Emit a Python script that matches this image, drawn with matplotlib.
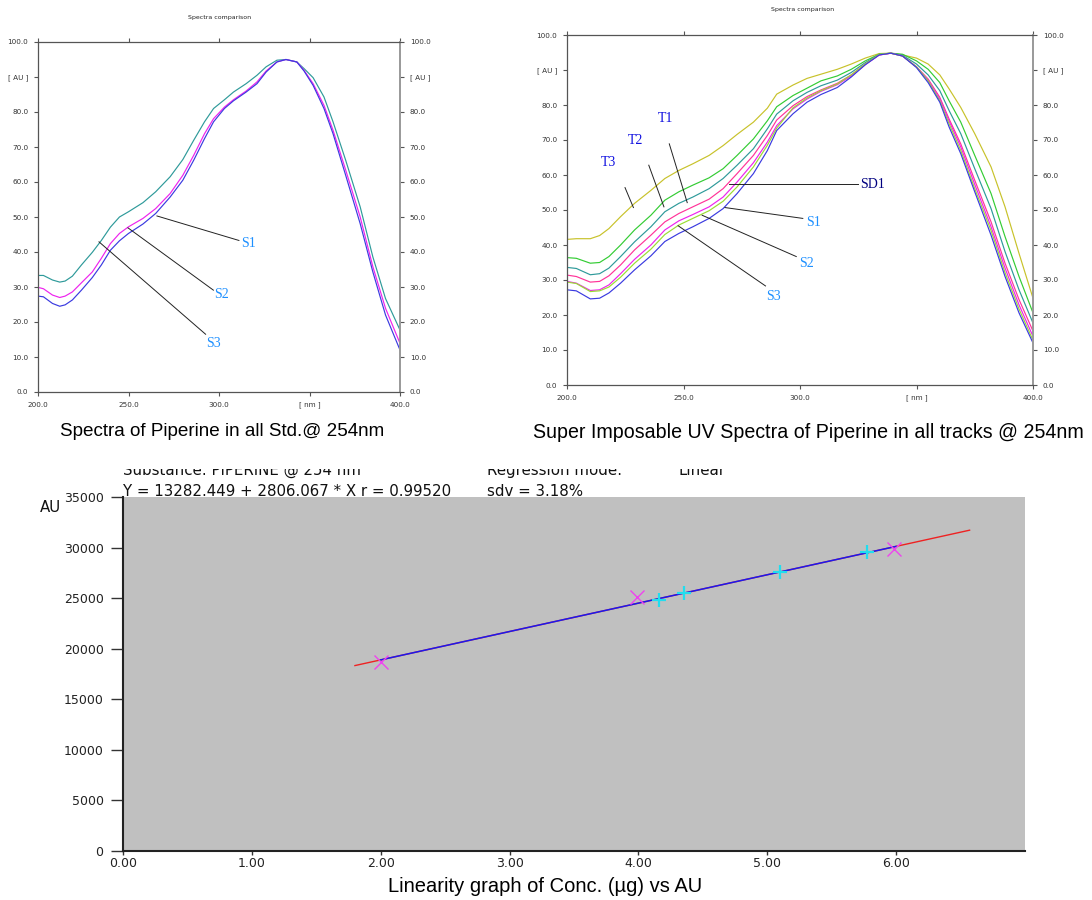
import matplotlib
matplotlib.use('Agg')
import matplotlib.pyplot as plt
from matplotlib.patches import Rectangle

W, H = 1092, 900

# ---------------- data ----------------
# Top-left: Spectra of standards
wl_left = [200, 203, 208, 212, 215, 219, 224, 230, 235, 240, 245, 250, 258, 265, 273, 280, 286, 292,
           297, 303, 308, 315, 321, 326, 332, 337, 343, 347, 352, 358, 363, 370, 378, 385, 392, 400]
left_teal = [33.3, 33.3, 32.0, 31.4, 31.7, 33.1, 36.3, 39.9, 43.3, 47.1, 50.0, 51.5, 54.1, 57.2, 61.5, 66.4, 71.9, 77.2,
             81.0, 83.5, 85.7, 88.1, 90.5, 92.9, 94.8, 95.0, 94.3, 92.4, 89.8, 84.3, 77.2, 66.2, 52.9, 38.6, 26.7, 17.7]
left_magenta = [29.9, 29.5, 27.7, 27.0, 27.4, 28.6, 31.2, 34.3, 38.2, 42.4, 45.3, 47.2, 49.6, 52.4, 56.7, 61.9, 67.6, 73.8,
                78.1, 81.4, 83.5, 86.0, 88.6, 91.7, 94.3, 95.0, 94.3, 91.9, 88.1, 81.9, 74.8, 63.4, 50.0, 35.8, 23.9, 13.9]
left_blue = [27.4, 27.2, 25.3, 24.5, 24.9, 26.3, 29.1, 32.7, 36.3, 40.5, 43.2, 45.3, 48.0, 51.0, 55.7, 60.5, 66.2, 72.4,
             77.2, 81.0, 83.2, 85.7, 88.1, 91.4, 94.3, 95.0, 94.3, 91.7, 87.6, 81.0, 73.8, 61.9, 48.1, 34.3, 22.0, 12.0]

# Top-right: all tracks
wl_right = [200, 204, 210, 214, 218, 223, 229, 236, 242, 248, 254, 261, 267, 273, 280, 286, 290, 297,
            303, 309, 316, 322, 328, 334, 339, 344, 350, 355, 360, 364, 369, 375, 382, 388, 394, 400]
right_yellow = [41.6, 41.8, 41.8, 42.7, 44.7, 48.1, 51.9, 55.6, 59.0, 61.3, 63.2, 65.6, 68.4, 71.6, 75.1, 79.1, 83.1, 85.7,
                87.6, 88.8, 90.2, 91.7, 93.4, 94.7, 94.8, 94.3, 93.4, 91.7, 88.6, 84.6, 79.3, 71.8, 62.3, 50.9, 37.6, 24.8]
right_green = [36.4, 36.2, 34.8, 35.0, 36.7, 40.0, 44.3, 48.5, 52.8, 55.2, 57.1, 59.2, 61.8, 65.6, 70.3, 75.5, 79.5, 82.7,
               84.8, 86.9, 88.3, 90.2, 92.6, 94.5, 94.8, 94.5, 92.6, 90.2, 86.4, 81.2, 75.1, 65.6, 54.7, 42.4, 31.0, 20.6]
right_teal = [33.6, 33.3, 31.5, 31.8, 33.4, 36.7, 40.9, 45.2, 49.5, 51.9, 53.7, 56.1, 59.0, 62.8, 67.5, 73.2, 77.4, 81.2,
              83.6, 85.5, 87.1, 89.3, 92.1, 94.5, 94.8, 94.2, 91.7, 88.6, 84.1, 78.4, 71.8, 61.8, 50.4, 38.1, 27.2, 17.7]
right_pink = [31.4, 31.0, 29.4, 29.6, 31.2, 34.3, 38.6, 42.8, 46.6, 49.0, 50.9, 53.1, 56.1, 60.4, 65.6, 71.3, 75.7, 79.8,
              82.4, 84.3, 86.2, 88.6, 91.7, 94.3, 94.8, 94.0, 90.9, 87.4, 82.2, 76.0, 68.9, 58.5, 46.6, 34.8, 24.4, 15.4]
right_magenta = [29.6, 29.1, 27.0, 27.2, 28.6, 31.8, 35.9, 40.0, 44.3, 46.9, 48.7, 50.9, 53.7, 58.0, 63.5, 69.4, 74.1, 78.9,
                 81.7, 83.9, 85.8, 88.3, 91.5, 94.3, 94.8, 94.0, 90.9, 87.1, 81.7, 75.4, 68.0, 57.3, 45.2, 33.4, 22.9, 13.9]
right_yg = [29.4, 29.0, 26.7, 26.9, 28.0, 30.8, 34.8, 38.8, 43.0, 45.7, 47.6, 49.8, 52.5, 56.6, 62.3, 68.5, 73.4, 79.2,
            82.0, 84.1, 86.0, 88.6, 91.7, 94.5, 94.8, 94.0, 90.9, 86.9, 81.2, 74.6, 67.0, 56.1, 44.1, 32.1, 21.7, 12.8]
right_blue = [27.2, 26.9, 24.6, 24.8, 26.3, 29.1, 32.9, 36.9, 41.0, 43.3, 45.2, 47.6, 50.4, 54.7, 60.4, 67.0, 72.7, 77.5,
              80.8, 83.0, 85.0, 88.0, 91.5, 94.3, 94.8, 94.0, 90.7, 86.4, 80.8, 73.7, 66.1, 55.2, 42.8, 31.0, 20.6, 12.0]

spec_yticks = [0, 10, 20, 30, 40, 50, 60, 70, 80, 90, 100]
spec_ylabels = ['0.0', '10.0', '20.0', '30.0', '40.0', '50.0', '60.0', '70.0', '80.0', '[ AU ]', '100.0']
spec_xticks = [200, 250, 300, 350, 400]
spec_xlabels = ['200.0', '250.0', '300.0', '[ nm ]', '400.0']

# Bottom: linearity
intercept = 13282.449
slope = 2806.067
red_range = [1.80, 6.57]
blue_range = [2.00, 6.00]
std_conc = [2.00, 3.99, 5.98]
std_area = [18700, 25150, 29850]
smp_conc = [4.16, 4.35, 5.10, 5.77]
smp_area = [24800, 25500, 27550, 29550]
lin_xticks = [0, 1, 2, 3, 4, 5, 6]
lin_xlabels = ['0.00', '1.00', '2.00', '3.00', '4.00', '5.00', '6.00']
lin_yticks = [0, 5000, 10000, 15000, 20000, 25000, 30000, 35000]

# ---------------- figure ----------------
fig = plt.figure(figsize=(W / 100, H / 100), dpi=100)


def ax_rect(l, t, r, b):
    return [l / W, 1 - b / H, (r - l) / W, (b - t) / H]


def style_spec(ax):
    ax.set_xlim(200, 400)
    ax.set_ylim(0, 100)
    ax.set_yticks(spec_yticks)
    ax.set_yticklabels(spec_ylabels)
    ax.set_xticks(spec_xticks)
    ax.set_xticklabels(spec_xlabels)
    ax.tick_params(axis='both', which='both', direction='out', length=3, width=0.8, color='#555555',
                   labelsize=5.2, labelcolor='#333333', pad=4,
                   left=True, right=True, top=True, bottom=True,
                   labelleft=True, labelright=True, labeltop=False, labelbottom=True)
    ax.tick_params(axis='x', pad=4)
    for s in ax.spines.values():
        s.set_color('#555555')
        s.set_linewidth(0.9)
    ax.spines['right'].set_color('#999999')
    ax.spines['right'].set_linewidth(1.4)


lw = 0.85
serif = ['Liberation Serif', 'DejaVu Serif']
# Top-left
ax1 = fig.add_axes(ax_rect(38, 42, 400, 392))
ax1.plot(wl_left, left_teal, color='#2E9A9A', lw=lw)
ax1.plot(wl_left, left_magenta, color='#EE22EE', lw=lw)
ax1.plot(wl_left, left_blue, color='#3A3AE0', lw=lw)
style_spec(ax1)
for (x0, y0, x1, y1, tx, ty, t) in [
        (265.7, 50.3, 311.0, 43.3, 316.2, 42.3, 'S1'),
        (249.7, 46.9, 296.9, 29.1, 301.3, 28.0, 'S2'),
        (233.7, 42.9, 292.6, 16.5, 296.9, 13.8, 'S3')]:
    ax1.plot([x0, x1], [y0, y1], color='#222222', lw=0.7)
    ax1.text(tx, ty, t, family=serif, fontsize=10, color='#1E90FF', ha='center', va='center')

# Top-right
ax2 = fig.add_axes(ax_rect(567, 35, 1033, 385))
ax2.plot(wl_right, right_yellow, color='#C8C22A', lw=lw)
ax2.plot(wl_right, right_green, color='#33CC33', lw=lw)
ax2.plot(wl_right, right_teal, color='#2E9A9A', lw=lw)
ax2.plot(wl_right, right_pink, color='#FF3399', lw=lw)
ax2.plot(wl_right, right_magenta, color='#EE22EE', lw=lw)
ax2.plot(wl_right, right_yg, color='#99DD33', lw=lw)
ax2.plot(wl_right, right_blue, color='#3A3AE0', lw=lw)
style_spec(ax2)
for (x0, y0, x1, y1, tx, ty, t, c) in [
        (243.9, 68.9, 251.6, 52.1, 242.2, 76.0, 'T1', '#1010E0'),
        (235.1, 62.8, 241.6, 50.9, 229.3, 69.9, 'T2', '#1010E0'),
        (224.9, 56.4, 228.5, 50.7, 217.6, 63.7, 'T3', '#1010E0'),
        (267.8, 50.7, 301.2, 47.6, 305.9, 46.4, 'S1', '#1E90FF'),
        (258.0, 48.5, 298.4, 36.7, 302.7, 34.6, 'S2', '#1E90FF'),
        (247.7, 45.5, 285.2, 28.3, 288.5, 25.3, 'S3', '#1E90FF')]:
    ax2.plot([x0, x1], [y0, y1], color='#222222', lw=0.7)
    ax2.text(tx, ty, t, family=serif, fontsize=10, color=c, ha='center', va='center')
ax2.plot([269.6, 325.0], [57.3, 57.3], color='#222222', lw=0.7)
ax2.text(325.6, 57.3, 'SD1', family=serif, fontsize=10, color='#000080', ha='left', va='center')

# titles
fig.text(220 / W, 1 - 18 / H, 'Spectra comparison', fontsize=4.5, ha='center', va='center', color='#222222')
fig.text(803 / W, 1 - 10 / H, 'Spectra comparison', fontsize=4.5, ha='center', va='center', color='#222222')

cap_kw = dict(family=['Liberation Sans', 'DejaVu Sans'], color='black', va='center')
fig.text(222 / W, 1 - 432 / H, 'Spectra of Piperine in all Std.@ 254nm', ha='center', fontsize=13.6, **cap_kw)
fig.text(533 / W, 1 - 432 / H, 'Super Imposable UV Spectra of Piperine in all tracks @ 254nm', ha='left',
         fontsize=14.1, **cap_kw)

# Bottom linearity chart
ax3 = fig.add_axes(ax_rect(123, 497, 1025, 851))
ax3.set_facecolor('#C0C0C0')
ax3.set_xlim(0, 7.0)
ax3.set_ylim(0, 35000)
ax3.plot(red_range, [intercept + slope * v for v in red_range], color='#EE2222', lw=1.0)
ax3.plot(blue_range, [intercept + slope * v for v in blue_range], color='#1A1AEE', lw=1.1)
ax3.plot(std_conc, std_area, linestyle='none', marker='x', markersize=10, mew=1.0, color='#EE44EE')
ax3.plot(smp_conc, smp_area, linestyle='none', marker='+', markersize=10, mew=1.6, color='#22DDEE')
ax3.set_xticks(lin_xticks)
ax3.set_xticklabels(lin_xlabels)
ax3.set_yticks(lin_yticks)
ax3.set_yticklabels([str(v) for v in lin_yticks])
ax3.tick_params(axis='y', direction='out', length=9, width=1.0, labelsize=9, color='#333333', pad=5,
                labelcolor='#222222')
ax3.tick_params(axis='x', direction='out', length=3, width=1.0, labelsize=9, color='#333333', pad=1,
                labelcolor='#222222')
for s in ['top', 'right']:
    ax3.spines[s].set_visible(False)
for s in ['left', 'bottom']:
    ax3.spines[s].set_linewidth(1.5)
    ax3.spines[s].set_color('#222222')
for lab in ax3.get_xticklabels() + ax3.get_yticklabels():
    lab.set_family('DejaVu Sans')

hdr = dict(family='DejaVu Sans', fontsize=10.8, color='#111111', va='center', ha='left')
fig.text(123 / W, 1 - 470 / H, 'Substance: PIPERINE @ 254 nm', **hdr)
fig.text(487 / W, 1 - 470 / H, 'Regression mode:', **hdr)
fig.text(678 / W, 1 - 470 / H, 'Linear', **hdr)
fig.text(123 / W, 1 - 491 / H, 'Y = 13282.449 + 2806.067 * X r = 0.99520', **hdr)
fig.text(487 / W, 1 - 491 / H, 'sdv = 3.18%', **hdr)
fig.text(40 / W, 1 - 507 / H, 'AU', **hdr)
# clipped top of header line, as in the reference
fig.patches.append(Rectangle((0, 1 - 468.5 / H), 1, 17 / H, transform=fig.transFigure,
                             facecolor='white', edgecolor='none', zorder=10))

fig.text(545 / W, 1 - 887 / H, 'Linearity graph of Conc. (\u00b5g) vs AU',
         family=['Liberation Sans', 'DejaVu Sans'], fontsize=14.5, ha='center',
         va='center', color='black')

fig.savefig('out.png', dpi=100, facecolor='white')
